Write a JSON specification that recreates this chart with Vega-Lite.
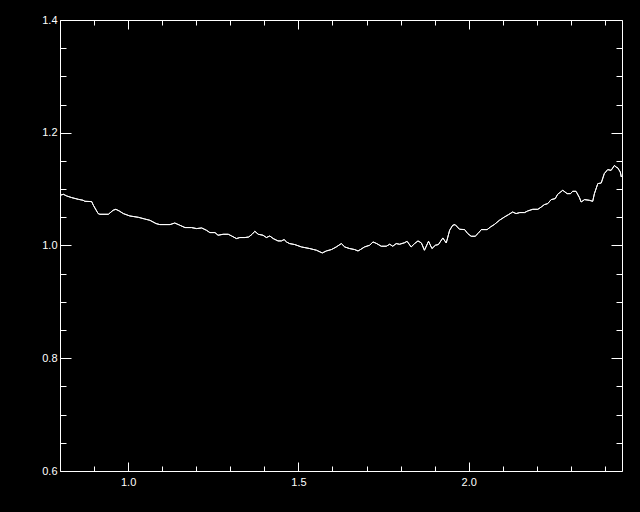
{
  "$schema": "https://vega.github.io/schema/vega-lite/v6.json",
  "autosize": "none",
  "width": 562,
  "height": 451,
  "padding": {"left": 60, "top": 20, "right": 18, "bottom": 41},
  "background": "black",
  "data": {"values": [
    {"x": 0.800, "y": 1.0890}, {"x": 0.810, "y": 1.0908}, {"x": 0.820, "y": 1.0878}, {"x": 0.834, "y": 1.0850},
    {"x": 0.854, "y": 1.0819}, {"x": 0.868, "y": 1.0802}, {"x": 0.873, "y": 1.0784}, {"x": 0.893, "y": 1.0779},
    {"x": 0.898, "y": 1.0713}, {"x": 0.912, "y": 1.0566}, {"x": 0.917, "y": 1.0554}, {"x": 0.942, "y": 1.0554},
    {"x": 0.956, "y": 1.0625}, {"x": 0.964, "y": 1.0642}, {"x": 0.974, "y": 1.0612}, {"x": 0.986, "y": 1.0566},
    {"x": 1.005, "y": 1.0524}, {"x": 1.030, "y": 1.0500}, {"x": 1.049, "y": 1.0470}, {"x": 1.064, "y": 1.0447},
    {"x": 1.082, "y": 1.0389}, {"x": 1.093, "y": 1.0371}, {"x": 1.123, "y": 1.0371}, {"x": 1.137, "y": 1.0399},
    {"x": 1.152, "y": 1.0359}, {"x": 1.167, "y": 1.0318}, {"x": 1.186, "y": 1.0318}, {"x": 1.201, "y": 1.0300},
    {"x": 1.216, "y": 1.0311}, {"x": 1.230, "y": 1.0270}, {"x": 1.240, "y": 1.0229}, {"x": 1.255, "y": 1.0229},
    {"x": 1.264, "y": 1.0182}, {"x": 1.279, "y": 1.0199}, {"x": 1.294, "y": 1.0199}, {"x": 1.304, "y": 1.0169},
    {"x": 1.318, "y": 1.0123}, {"x": 1.328, "y": 1.0141}, {"x": 1.343, "y": 1.0141}, {"x": 1.354, "y": 1.0151},
    {"x": 1.364, "y": 1.0199}, {"x": 1.372, "y": 1.0252}, {"x": 1.382, "y": 1.0199}, {"x": 1.396, "y": 1.0182},
    {"x": 1.406, "y": 1.0141}, {"x": 1.416, "y": 1.0169}, {"x": 1.426, "y": 1.0123}, {"x": 1.440, "y": 1.0081},
    {"x": 1.450, "y": 1.0081}, {"x": 1.458, "y": 1.0105}, {"x": 1.465, "y": 1.0063}, {"x": 1.474, "y": 1.0034},
    {"x": 1.489, "y": 1.0017}, {"x": 1.509, "y": 0.9974}, {"x": 1.533, "y": 0.9946}, {"x": 1.553, "y": 0.9916},
    {"x": 1.570, "y": 0.9868}, {"x": 1.582, "y": 0.9903}, {"x": 1.597, "y": 0.9928}, {"x": 1.611, "y": 0.9974},
    {"x": 1.626, "y": 1.0034}, {"x": 1.636, "y": 0.9974}, {"x": 1.650, "y": 0.9946}, {"x": 1.665, "y": 0.9928},
    {"x": 1.675, "y": 0.9903}, {"x": 1.682, "y": 0.9928}, {"x": 1.694, "y": 0.9974}, {"x": 1.709, "y": 1.0004},
    {"x": 1.719, "y": 1.0063}, {"x": 1.730, "y": 1.0034}, {"x": 1.743, "y": 0.9987}, {"x": 1.758, "y": 0.9987},
    {"x": 1.768, "y": 1.0022}, {"x": 1.777, "y": 0.9987}, {"x": 1.787, "y": 1.0034}, {"x": 1.797, "y": 1.0022},
    {"x": 1.812, "y": 1.0050}, {"x": 1.819, "y": 1.0075}, {"x": 1.831, "y": 0.9974}, {"x": 1.841, "y": 1.0034},
    {"x": 1.851, "y": 1.0081}, {"x": 1.861, "y": 1.0045}, {"x": 1.870, "y": 0.9916}, {"x": 1.882, "y": 1.0075},
    {"x": 1.892, "y": 0.9946}, {"x": 1.902, "y": 1.0004}, {"x": 1.911, "y": 1.0017}, {"x": 1.924, "y": 1.0134},
    {"x": 1.934, "y": 1.0045}, {"x": 1.944, "y": 1.0270}, {"x": 1.953, "y": 1.0359}, {"x": 1.960, "y": 1.0371},
    {"x": 1.973, "y": 1.0288}, {"x": 1.988, "y": 1.0282}, {"x": 1.997, "y": 1.0212}, {"x": 2.007, "y": 1.0164},
    {"x": 2.019, "y": 1.0164}, {"x": 2.027, "y": 1.0212}, {"x": 2.037, "y": 1.0282}, {"x": 2.054, "y": 1.0282},
    {"x": 2.064, "y": 1.0329}, {"x": 2.076, "y": 1.0376}, {"x": 2.090, "y": 1.0447}, {"x": 2.105, "y": 1.0506},
    {"x": 2.117, "y": 1.0548}, {"x": 2.129, "y": 1.0594}, {"x": 2.139, "y": 1.0566}, {"x": 2.150, "y": 1.0584},
    {"x": 2.164, "y": 1.0584}, {"x": 2.173, "y": 1.0612}, {"x": 2.188, "y": 1.0642}, {"x": 2.203, "y": 1.0642},
    {"x": 2.213, "y": 1.0683}, {"x": 2.222, "y": 1.0725}, {"x": 2.232, "y": 1.0743}, {"x": 2.242, "y": 1.0814},
    {"x": 2.254, "y": 1.0832}, {"x": 2.261, "y": 1.0908}, {"x": 2.276, "y": 1.0979}, {"x": 2.289, "y": 1.0920},
    {"x": 2.299, "y": 1.0920}, {"x": 2.305, "y": 1.0961}, {"x": 2.315, "y": 1.0961}, {"x": 2.325, "y": 1.0850},
    {"x": 2.330, "y": 1.0772}, {"x": 2.340, "y": 1.0814}, {"x": 2.354, "y": 1.0802}, {"x": 2.364, "y": 1.0784},
    {"x": 2.369, "y": 1.0920}, {"x": 2.379, "y": 1.1098}, {"x": 2.389, "y": 1.1108}, {"x": 2.398, "y": 1.1275},
    {"x": 2.408, "y": 1.1346}, {"x": 2.418, "y": 1.1333}, {"x": 2.428, "y": 1.1422}, {"x": 2.432, "y": 1.1392},
    {"x": 2.437, "y": 1.1381}, {"x": 2.445, "y": 1.1303}, {"x": 2.448, "y": 1.1215}
  ]},
  "resolve": {"axis": {"x": "independent", "y": "independent"}},
  "layer": [
    {
      "mark": {"type": "line", "color": "white", "strokeWidth": 1, "clip": true},
      "encoding": {
        "x": {"field": "x", "type": "quantitative",
          "scale": {"domain": [0.8, 2.45], "nice": false, "zero": false},
          "axis": {"orient": "bottom", "title": null,
            "values": [0.8, 0.9, 1.0, 1.1, 1.2, 1.3, 1.4, 1.5, 1.6, 1.7, 1.8, 1.9, 2.0, 2.1, 2.2, 2.3, 2.4],
            "tickSize": {"condition": {"test": "abs(datum.value*2 - round(datum.value*2)) < 0.001", "value": -9}, "value": -5},
            "labelExpr": "abs(datum.value*2 - round(datum.value*2)) < 0.001 ? format(datum.value, '.1f') : ''",
            "labelPadding": 14, "labelBaseline": "top", "labelAlign": "center"}},
        "y": {"field": "y", "type": "quantitative",
          "scale": {"domain": [0.6, 1.4], "nice": false, "zero": false},
          "axis": {"orient": "left", "title": null,
            "values": [0.6, 0.65, 0.7, 0.75, 0.8, 0.85, 0.9, 0.95, 1.0, 1.05, 1.1, 1.15, 1.2, 1.25, 1.3, 1.35, 1.4],
            "tickSize": {"condition": {"test": "abs(datum.value*5 - round(datum.value*5)) < 0.001", "value": -11}, "value": -6},
            "labelExpr": "abs(datum.value*5 - round(datum.value*5)) < 0.001 ? format(datum.value, '.1f') : ''",
            "labelPadding": 14, "labelAlign": "right", "labelBaseline": "middle"}}
      }
    },
    {
      "mark": {"type": "line", "color": "white", "strokeWidth": 1, "clip": true},
      "encoding": {
        "x": {"field": "x", "type": "quantitative",
          "axis": {"orient": "top", "title": null, "labels": false,
            "values": [0.8, 0.9, 1.0, 1.1, 1.2, 1.3, 1.4, 1.5, 1.6, 1.7, 1.8, 1.9, 2.0, 2.1, 2.2, 2.3, 2.4],
            "tickSize": {"condition": {"test": "abs(datum.value*2 - round(datum.value*2)) < 0.001", "value": -9}, "value": -5}}},
        "y": {"field": "y", "type": "quantitative",
          "axis": {"orient": "right", "title": null, "labels": false,
            "values": [0.6, 0.65, 0.7, 0.75, 0.8, 0.85, 0.9, 0.95, 1.0, 1.05, 1.1, 1.15, 1.2, 1.25, 1.3, 1.35, 1.4],
            "tickSize": {"condition": {"test": "abs(datum.value*5 - round(datum.value*5)) < 0.001", "value": -11}, "value": -6}}}
      }
    }
  ],
  "config": {
    "view": {"stroke": null},
    "axis": {
      "grid": false,
      "domainColor": "white", "domainWidth": 1,
      "tickColor": "white", "tickWidth": 1,
      "labelColor": "white", "labelFont": "Liberation Sans", "labelFontSize": 11,
      "labelFlush": false, "labelOverlap": false
    }
  }
}
